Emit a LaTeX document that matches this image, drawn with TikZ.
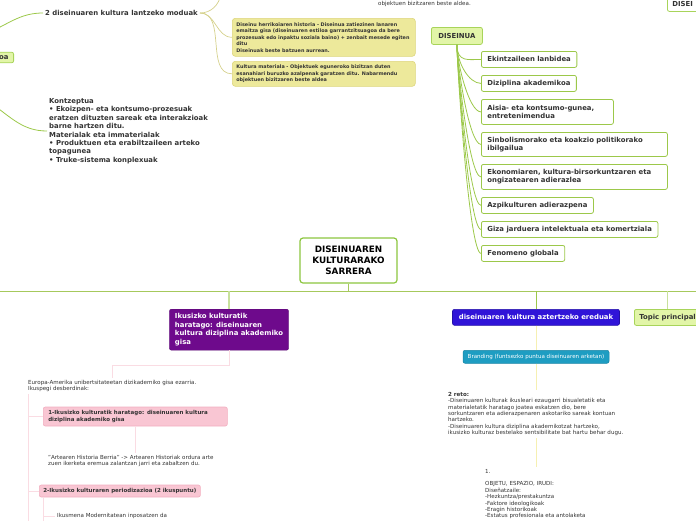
\documentclass[tikz,border=0pt]{standalone}
\usepackage{fontspec}
\setmainfont{DejaVu Sans}
\definecolor{mapgreen}{HTML}{9CC84A}
\definecolor{rootgreen}{HTML}{8CC63F}
\definecolor{mainline}{HTML}{A6C95C}
\definecolor{palegreen}{HTML}{C8E19C}
\definecolor{topicfill}{HTML}{E2F5A8}
\definecolor{topicdraw}{HTML}{A8D45A}
\definecolor{notefill}{HTML}{EDE99B}
\definecolor{notedraw}{HTML}{DDD67C}
\definecolor{noteline}{HTML}{D5D18C}
\definecolor{purplefill}{HTML}{6E0A8C}
\definecolor{bluefill}{HTML}{3014D8}
\definecolor{bluedraw}{HTML}{2410A8}
\definecolor{tealfill}{HTML}{1E9DC2}
\definecolor{pinkfill}{HTML}{F9C6D3}
\definecolor{pinkdraw}{HTML}{F2AFC0}
\definecolor{pinkline}{HTML}{FADCE3}
\definecolor{paleyellow}{HTML}{F6F0B2}
\definecolor{txtgray}{HTML}{333333}
\newcommand{\mmBold}{\fontsize{6.9}{8.4}\selectfont\bfseries}
\newcommand{\mmSmall}{\fontsize{5.55}{6.4}\selectfont}
\newcommand{\mmNote}{\fontsize{4.9}{6.5}\selectfont\bfseries}
\newcommand{\mmTiny}{\fontsize{5.5}{6.2}\selectfont\bfseries}
\newcommand{\mmRoot}{\fontsize{8.8}{11}\selectfont\bfseries}
\tikzset{
  plaintext/.style={inner sep=2pt, align=left, font=\mmSmall, text=txtgray},
  boldtext/.style={inner sep=2pt, align=left, font=\mmBold, text=txtgray},
  leafbox/.style={draw=mapgreen, fill=white, line width=0.8pt, rounded corners=2pt,
    anchor=north west, align=left, inner xsep=6pt, font=\mmBold, text=txtgray},
  topicbox/.style={draw=topicdraw, fill=topicfill, line width=0.8pt, rounded corners=2pt,
    align=left, inner xsep=5pt, font=\mmBold, text=txtgray},
  notebox/.style={draw=notedraw, fill=notefill, line width=0.6pt, rounded corners=3pt,
    anchor=north west, align=left, inner xsep=4pt, font=\mmNote, text=txtgray},
  pinkbox/.style={draw=pinkdraw, fill=pinkfill, line width=0.6pt, rounded corners=2pt,
    align=left, inner xsep=5pt, font=\mmTiny, text=txtgray},
  rootbox/.style={draw=rootgreen, fill=white, line width=1.2pt, rounded corners=3pt,
    minimum width=97pt, minimum height=45pt, align=center, font=\mmRoot},
  mapline/.style={draw=mapgreen, line width=0.8pt},
  noteconn/.style={draw=noteline, line width=0.7pt},
  pinkconn/.style={draw=pinkline, line width=1pt},
  yellowline/.style={draw=paleyellow, line width=1pt},
}

\begin{document}
\begin{tikzpicture}[x=1pt,y=-1pt]
    \useasboundingbox (0,0) rectangle (696,520);

    \coordinate (lefttop) at (-8,31);
    \coordinate (leftbot) at (-8,104);
    \coordinate (upbranch) at (221,-6);
    \node[topicbox, anchor=east] (oa) at (14,57.5) {oa};
    \node[boldtext, anchor=west] (moduak) at (43,13) {2 diseinuaren kultura lantzeko moduak};
    \draw[mapline] (lefttop) to[out=25,in=180] (moduak.west);
    \node[notebox, text width=175pt, minimum height=38pt] (herri) at (232,18) {Diseinu herrikoiaren historia - Diseinua zatiezinen lanaren\\emaitza gisa (diseinuaren estiloa garrantzitsuagoa da bere\\prozesuak edo inpaktu soziala baino) + zenbait mesede egiten\\ditu\\Diseinuak beste batzuen aurrean.};
    \node[notebox, text width=175pt, minimum height=25pt] (materiala) at (232,61) {Kultura materiala - Objektuek eguneroko bizitzan duten\\esanahiari buruzko azalpenak garatzen ditu. Nabarmendu\\objektuen bizitzaren beste aldea};
    \draw[noteconn] (moduak.east) to[out=0,in=-100] (upbranch);
    \draw[noteconn] (moduak.east) to[out=0,in=180] (herri.west);
    \draw[noteconn] (moduak.east) to[out=0,in=180] (materiala.west);
    \node[boldtext, anchor=west] (kontzeptua) at (47,131) {Kontzeptua\\%
        • Ekoizpen- eta kontsumo-prozesuak\\eratzen dituzten sareak eta interakzioak\\barne hartzen ditu.\\%
        Materialak eta immaterialak\\• Produktuen eta erabiltzaileen arteko\\topagunea\\• Truke-sistema konplexuak};
    \draw[mapline] (leftbot) to[out=-35,in=180] (kontzeptua.west);
    \node[plaintext, anchor=west] (aldea) at (376,4) {objektuen bizitzaren beste aldea.};
    \node[topicbox, anchor=north west, fill=white, minimum height=15pt, text width=50pt] (disei) at (667,-4) {DISEI};

    \node[topicbox, anchor=north west, align=center, minimum width=51pt, minimum height=17pt] (diseinua) at (431,27) {DISEINUA};
    \node[leafbox, minimum height=16pt] (ekintza) at (481,51) {Ekintzaileen lanbidea};
    \node[leafbox, minimum height=16pt] (diziplina) at (481,75) {Diziplina akademikoa};
    \node[leafbox, text width=120pt, minimum height=25pt] (aisia) at (481,99) {Aisia- eta kontsumo-gunea,\\entretenimendua};
    \node[leafbox, text width=174pt, minimum height=24pt] (sinbol) at (481,132) {Sinbolismorako eta koakzio politikorako\\ibilgailua};
    \node[leafbox, text width=174pt, minimum height=25pt] (ekonomia) at (481,164) {Ekonomiaren, kultura-birsorkuntzaren eta\\ongizatearen adierazlea};
    \node[leafbox, minimum height=16pt] (azpi) at (481,197) {Azpikulturen adierazpena};
    \node[leafbox, minimum height=16pt] (giza) at (481,221) {Giza jarduera intelektuala eta komertziala};
    \node[leafbox, minimum height=16pt] (fenomeno) at (481,245) {Fenomeno globala};
    \draw[mapline] (diseinua.south) .. controls +(0,18) and +(-12,0) .. (ekintza.west);
    \draw[mapline] (diseinua.south) .. controls +(0,18) and +(-12,0) .. (diziplina.west);
    \draw[mapline] (diseinua.south) .. controls +(0,18) and +(-12,0) .. (aisia.west);
    \draw[mapline] (diseinua.south) .. controls +(0,18) and +(-12,0) .. (sinbol.west);
    \draw[mapline] (diseinua.south) .. controls +(0,18) and +(-12,0) .. (ekonomia.west);
    \draw[mapline] (diseinua.south) .. controls +(0,18) and +(-12,0) .. (azpi.west);
    \draw[mapline] (diseinua.south) .. controls +(0,18) and +(-12,0) .. (giza.west);
    \draw[mapline] (diseinua.south) .. controls +(0,18) and +(-12,0) .. (fenomeno.west);

    \coordinate (mainleft) at (-5,291);
    \coordinate (mainright) at (701,291);
    \node[rootbox] (root) at (348.5,260.5) {DISEINUAREN\\KULTURARAKO\\SARRERA};
    \draw[draw=mainline, line width=1pt] (mainleft) -- (mainright);
    \draw[draw=mainline, line width=1pt] (root.south) -- (root.south |- mainleft);

    \node[anchor=north, fill=purplefill, draw=purplefill!80!black, line width=0.4pt, rounded corners=2pt,
        minimum height=41pt, inner xsep=5.5pt, align=left, font=\mmBold, text=white] (haratago) at (229,309)
        {Ikusizko kulturatik\\haratago: diseinuaren\\kultura diziplina akademiko\\gisa};
    \draw[draw=palegreen, line width=1.2pt] (haratago.north |- mainleft) -- (haratago.north);
    \node[anchor=north, fill=bluefill, draw=bluedraw, line width=0.6pt, rounded corners=2pt,
        minimum width=167pt, minimum height=16pt, font=\mmBold, text=white] (ereduak) at (536,309)
        {diseinuaren kultura aztertzeko ereduak};
    \draw[draw=mapgreen, line width=1pt] (ereduak.north |- mainleft) -- (ereduak.north);
    \node[topicbox, anchor=north west, minimum height=16pt] (topic) at (634,309) {Topic principal};
    \draw[draw=palegreen, line width=1.2pt] (topic.north |- mainleft) -- (topic.north);

    \node[anchor=north, fill=tealfill, draw=tealfill!85!black, line width=0.5pt, rounded corners=2pt,
        minimum width=146pt, minimum height=13pt, font=\mmSmall, text=white] (branding) at (536,350)
        {Branding (funtsezko puntua diseinuaren arketan)};
    \draw[yellowline] (ereduak.south) -- (branding.north);
    \node[plaintext, anchor=north west] (reto) at (446,390) {\textbf{2 reto:}\\%
        -Diseinuaren kulturak ikusleari ezaugarri bisualetatik eta\\materialetatik haratago joatea eskatzen dio, bere\\%
        sorkuntzaren eta adierazpenaren askotariko sareak kontuan\\hartzeko.\\%
        -Diseinuaren kultura diziplina akademikotzat hartzeko,\\ikusizko kulturaz bestelako sentsibilitate bat hartu behar dugu.};
    \draw[yellowline] (branding.south) -- (branding.south |- reto.north);
    \node[plaintext, anchor=north west] (objetu) at (483,467) {1.\\[6.2pt]OBJETU, ESPAZIO, IRUDI:\\Diseñatzaile:\\%
        -Hezkuntza/prestakuntza\\-Faktore ideologikoak\\-Eragin historikoak\\-Estatus profesionala eta antolaketa};
    \draw[yellowline] (reto.south -| branding.south) -- (objetu.north -| branding.south);

    \coordinate (pinkbottom) at (28,525);
    \coordinate (subbottom) at (43,525);
    \node[plaintext, anchor=north west] (europa) at (26,378) {Europa-Amerika unibertsitateetan dizikademiko gisa ezarria.\\Ikuspegi desberdinak:};
    \draw[pinkconn] (haratago.south) -- ++(0,15) -| (europa.north);
    \draw[pinkconn] (europa.south -| pinkbottom) -- (pinkbottom);
    \node[pinkbox, anchor=west, text width=174pt, minimum height=19pt] (pinkone) at (43,416.5) {1-Ikusizko kulturatik haratago: diseinuaren kultura\\diziplina akademiko gisa};
    \draw[pinkconn] (pinkone.west -| pinkbottom) -- (pinkone.west);
    \node[plaintext, anchor=north west] (quote) at (46,453) {"Artearen Historia Berria" -> Artearen Historiak ordura arte\\zuen ikerketa eremua zalantzan jarri eta zabaltzen du.};
    \draw[pinkconn] (pinkone.south) -- (pinkone.south |- quote.north);
    \node[pinkbox, anchor=west, minimum height=12pt, inner xsep=4pt] (pinktwo) at (39,491) {2-Ikusizko kulturaren periodizazioa (2 ikuspuntu)};
    \draw[pinkconn] (pinktwo.west -| pinkbottom) -- (pinktwo.west);
    \node[plaintext, anchor=west] (ikusmena) at (55,516) {Ikusmena Modernitatean inposatzen da};
    \draw[pinkconn] (pinktwo.south -| subbottom) -- (subbottom);
    \draw[pinkconn] (ikusmena.west -| subbottom) -- (ikusmena.west);
\end{tikzpicture}
\end{document}
